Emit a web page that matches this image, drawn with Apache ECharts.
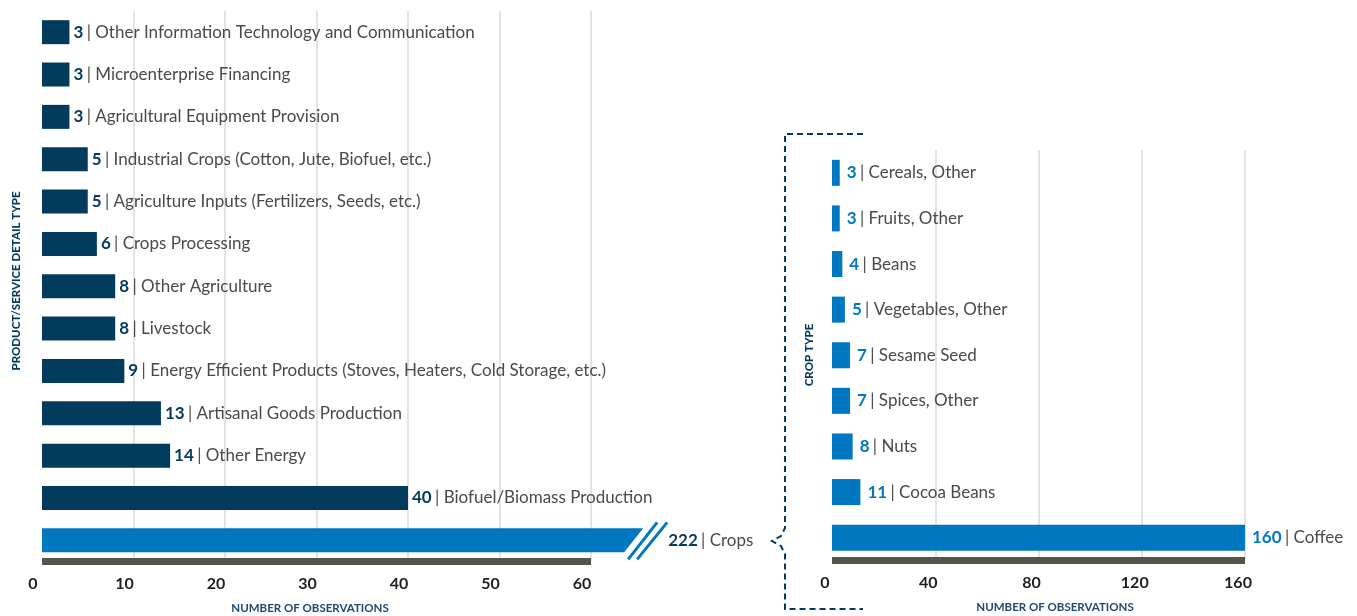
<!DOCTYPE html>
<html>
<head>
<meta charset="utf-8">
<script src="https://cdn.jsdelivr.net/npm/echarts@6/dist/echarts.min.js"></script>
<style>
html,body{margin:0;padding:0;background:#fff;}
#main{width:1357px;height:616px;}
</style>
</head>
<body>
<div id="main"></div>
<script>
// ---- data ----
const productCategories = [
  'Other Information Technology and Communication',
  'Microenterprise Financing',
  'Agricultural Equipment Provision',
  'Industrial Crops (Cotton, Jute, Biofuel, etc.)',
  'Agriculture Inputs (Fertilizers, Seeds, etc.)',
  'Crops Processing',
  'Other Agriculture',
  'Livestock',
  'Energy Efficient Products (Stoves, Heaters, Cold Storage, etc.)',
  'Artisanal Goods Production',
  'Other Energy',
  'Biofuel/Biomass Production',
  'Crops'
];
const productValues = [3, 3, 3, 5, 5, 6, 8, 8, 9, 13, 14, 40, 222];
const productTicks = [0, 10, 20, 30, 40, 50, 60];

const cropCategories = [
  'Cereals, Other',
  'Fruits, Other',
  'Beans',
  'Vegetables, Other',
  'Sesame Seed',
  'Spices, Other',
  'Nuts',
  'Cocoa Beans',
  'Coffee'
];
const cropValues = [3, 3, 4, 5, 7, 7, 8, 11, 160];
const cropTicks = [0, 40, 80, 120, 160];

// broken-axis value at which the out-of-range "Crops" bar is cut
const breakAt = 65.7;

// ---- styles ----
const NAVY = '#033b5d';
const BLUE = '#0077c1';
const AXISGRAY = '#55534a';
const GRID = '#e3e3e3';
const TXT = '#4a4a4a';
const FONT = 'Lato';

function rich(numColor) {
  return {
    v: { fontFamily: FONT, fontWeight: 'bold', fontSize: 17, color: numColor, fill: numColor },
    t: { fontFamily: FONT, fontSize: 17, color: TXT, fill: TXT }
  };
}

const chart = echarts.init(document.getElementById('main'), null, { renderer: 'canvas' });

const leftMain = productValues.map((v, i) => productCategories[i] === 'Crops' ? '-' : v);
const cropsIdx = productCategories.indexOf('Crops');

function xAxisBase(shiftPad) {
  return {
    type: 'value',
    axisTick: { show: false },
    axisLine: { show: true, lineStyle: { color: AXISGRAY, width: 7, cap: 'butt' } },
    splitLine: { show: true, showMinLine: false, lineStyle: { color: GRID, width: 2 } },
    axisLabel: {
      color: '#1f1f1f', fontFamily: FONT, fontWeight: 'bold', fontSize: 16,
      margin: 14, padding: [0, shiftPad, 0, 0]
    }
  };
}

const option = {
  backgroundColor: '#fff',
  animation: false,
  grid: [
    { left: 42, right: 1357 - 591, top: 11, bottom: 616 - 561.5 },
    { left: 832, right: 1357 - 1245, top: 150, bottom: 616 - 560.5 }
  ],
  xAxis: [
    Object.assign(xAxisBase(18), { gridIndex: 0, min: productTicks[0], max: productTicks[productTicks.length - 1], interval: productTicks[1] - productTicks[0] }),
    Object.assign(xAxisBase(14), { gridIndex: 1, min: cropTicks[0], max: cropTicks[cropTicks.length - 1], interval: cropTicks[1] - cropTicks[0] })
  ],
  yAxis: [
    { type: 'category', gridIndex: 0, data: productCategories, inverse: true,
      axisLine: { show: false }, axisTick: { show: false }, axisLabel: { show: false }, splitLine: { show: false } },
    { type: 'category', gridIndex: 1, data: cropCategories, inverse: true,
      axisLine: { show: false }, axisTick: { show: false }, axisLabel: { show: false }, splitLine: { show: false } }
  ],
  series: [
    {
      type: 'bar', xAxisIndex: 0, yAxisIndex: 0, barWidth: 24,
      data: leftMain,
      itemStyle: { color: NAVY },
      label: {
        show: true, position: 'right', distance: 4,
        formatter: p => '{v|' + p.value + '} {t|| ' + p.name + '}',
        rich: rich(NAVY)
      }
    },
    {
      type: 'custom', xAxisIndex: 0, yAxisIndex: 0,
      data: [[productValues[cropsIdx], cropsIdx]],
      encode: { x: 0, y: 1 },
      clip: false,
      renderItem: function (params, api) {
        const idx = api.value(1);
        const p0 = api.coord([0, idx]);
        const pEnd = api.coord([breakAt, idx]);
        const h = 24, half = h / 2, slant = 19;
        const yc = p0[1];
        const children = [
          { type: 'polygon', shape: { points: [
              [p0[0], yc - half], [pEnd[0], yc - half],
              [pEnd[0] - slant, yc + half], [p0[0], yc + half]] },
            style: { fill: BLUE } },
          { type: 'line', shape: { x1: pEnd[0] - 15, y1: yc + 19, x2: pEnd[0] + 14, y2: yc - 18 },
            style: { stroke: BLUE, lineWidth: 3 } },
          { type: 'line', shape: { x1: pEnd[0] - 6, y1: yc + 19, x2: pEnd[0] + 24, y2: yc - 18 },
            style: { stroke: BLUE, lineWidth: 3 } },
          { type: 'text', x: pEnd[0] + 25, y: yc,
            style: { text: '{v|' + api.value(0) + '} {t|| ' + productCategories[idx] + '}',
              rich: rich(NAVY), verticalAlign: 'middle', align: 'left' } }
        ];
        return { type: 'group', children: children };
      }
    },
    {
      type: 'bar', xAxisIndex: 1, yAxisIndex: 1, barWidth: 26,
      data: cropValues,
      itemStyle: { color: BLUE },
      label: {
        show: true, position: 'right', distance: 7,
        formatter: p => '{v|' + p.value + '} {t|| ' + p.name + '}',
        rich: rich(BLUE)
      }
    }
  ],
  graphic: [
    { type: 'text', x: 16, y: 281, rotation: Math.PI / 2,
      style: { text: 'PRODUCT/SERVICE DETAIL TYPE', fill: NAVY, font: '900 11.5px Lato', align: 'center', verticalAlign: 'middle' } },
    { type: 'text', x: 809, y: 355, rotation: Math.PI / 2,
      style: { text: 'CROP TYPE', fill: NAVY, font: '900 11.5px Lato', align: 'center', verticalAlign: 'middle' } },
    { type: 'text', x: 310, y: 608,
      style: { text: 'NUMBER OF OBSERVATIONS', fill: '#1d4a6e', font: 'bold 11.5px Lato', align: 'center', verticalAlign: 'middle' } },
    { type: 'text', x: 1055, y: 607,
      style: { text: 'NUMBER OF OBSERVATIONS', fill: '#1d4a6e', font: 'bold 11.5px Lato', align: 'center', verticalAlign: 'middle' } },
    { type: 'polyline',
      shape: { points: [[863, 134], [785, 134], [785, 528], [781, 536], [772, 541], [781, 546], [785, 554], [785, 609], [863, 609]] },
      style: { stroke: NAVY, lineWidth: 2, lineDash: [6, 4], fill: null } }
  ]
};

chart.setOption(option);
</script>
</body>
</html>
